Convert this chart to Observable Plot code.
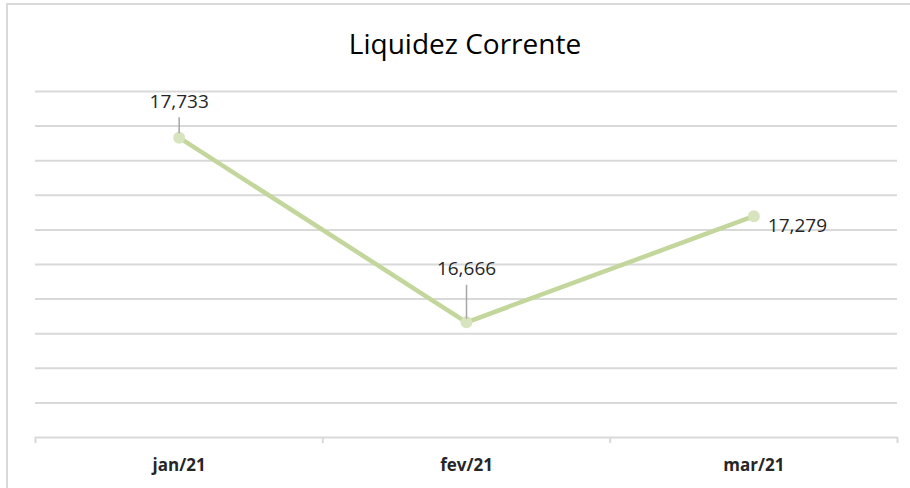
<!DOCTYPE html>
<html>
<head>
<meta charset="utf-8">
<script src="https://cdn.jsdelivr.net/npm/d3@7"></script>
<script src="https://cdn.jsdelivr.net/npm/@observablehq/plot@0.6"></script>
<style>
  html, body { margin: 0; padding: 0; background: #fff; }
  #wrap { position: relative; width: 910px; height: 488px; overflow: hidden; font-family: "Open Sans", "Noto Sans", sans-serif; }
  #frame { position: absolute; left: 6px; top: 3px; width: 910px; height: 500px; border-left: 2px solid #d9d9d9; border-top: 2px solid #d9d9d9; box-sizing: border-box; pointer-events: none; }
  #title { height: 70px; line-height: 86px; text-align: center; font-size: 28px; color: #000; padding-left: 20px; }
  svg { display: block; }
</style>
</head>
<body>
<div id="wrap">
  <div id="frame"></div>
  <div id="title">Liquidez Corrente</div>
  <div id="chart"></div>
</div>
<script>
const months = ["jan/21", "fev/21", "mar/21"];
const values = [17.733, 16.666, 17.279];
const valueLabels = ["17,733", "16,666", "17,279"];
const gridValues = [16.2, 16.4, 16.6, 16.8, 17.0, 17.2, 17.4, 17.6, 17.8, 18.0];
const boundaries = [-0.5, 0.5, 1.5, 2.5];

const data = months.map((m, i) => ({i, month: m, value: values[i], label: valueLabels[i]}));

const chart = Plot.plot({
  width: 910,
  height: 418,
  marginTop: 21,
  marginBottom: 51,
  marginLeft: 35,
  marginRight: 13,
  style: {fontFamily: "'Open Sans', 'Noto Sans', sans-serif", background: "transparent"},
  x: {domain: [-0.5, 2.5]},
  y: {domain: [16, 18]},
  marks: [
    Plot.ruleY(gridValues, {stroke: "#d9d9d9", strokeWidth: 2}),
    Plot.ruleY([16], {stroke: "#d9d9d9", strokeWidth: 2}),
    Plot.ruleX(boundaries, {y1: 16, y2: 16, insetBottom: -6, stroke: "#d9d9d9", strokeWidth: 2}),
    Plot.axisX({ticks: [0, 1, 2], tickFormat: (d) => months[d], tickSize: 0, tickPadding: 21, fontSize: 17, fontWeight: "bold", fill: "#262626", label: null}),
    Plot.axisY({ticks: [], label: null}),
    Plot.line(data, {x: "i", y: "value", stroke: "#c3d69b", strokeWidth: 4.5}),
    Plot.dot(data, {x: "i", y: "value", r: 6, fill: "#d7e4bd", stroke: null}),
    Plot.ruleX(data.filter(d => d.i === 0), {x: "i", y1: "value", y2: "value", insetTop: -20, insetBottom: 4, stroke: "#a6a6a6", strokeWidth: 1.5}),
    Plot.ruleX(data.filter(d => d.i === 1), {x: "i", y1: "value", y2: "value", insetTop: -37, insetBottom: 3, stroke: "#a6a6a6", strokeWidth: 1.5}),
    Plot.text(data.filter(d => d.i === 0), {x: "i", y: "value", text: "label", dy: -36, fontSize: 19, fill: "#262626"}),
    Plot.text(data.filter(d => d.i === 1), {x: "i", y: "value", text: "label", dy: -53, fontSize: 19, fill: "#262626"}),
    Plot.text(data.filter(d => d.i === 2), {x: "i", y: "value", text: "label", dx: 14, dy: 10, textAnchor: "start", fontSize: 19, fill: "#262626"})
  ]
});
document.getElementById("chart").appendChild(chart);
</script>
</body>
</html>
